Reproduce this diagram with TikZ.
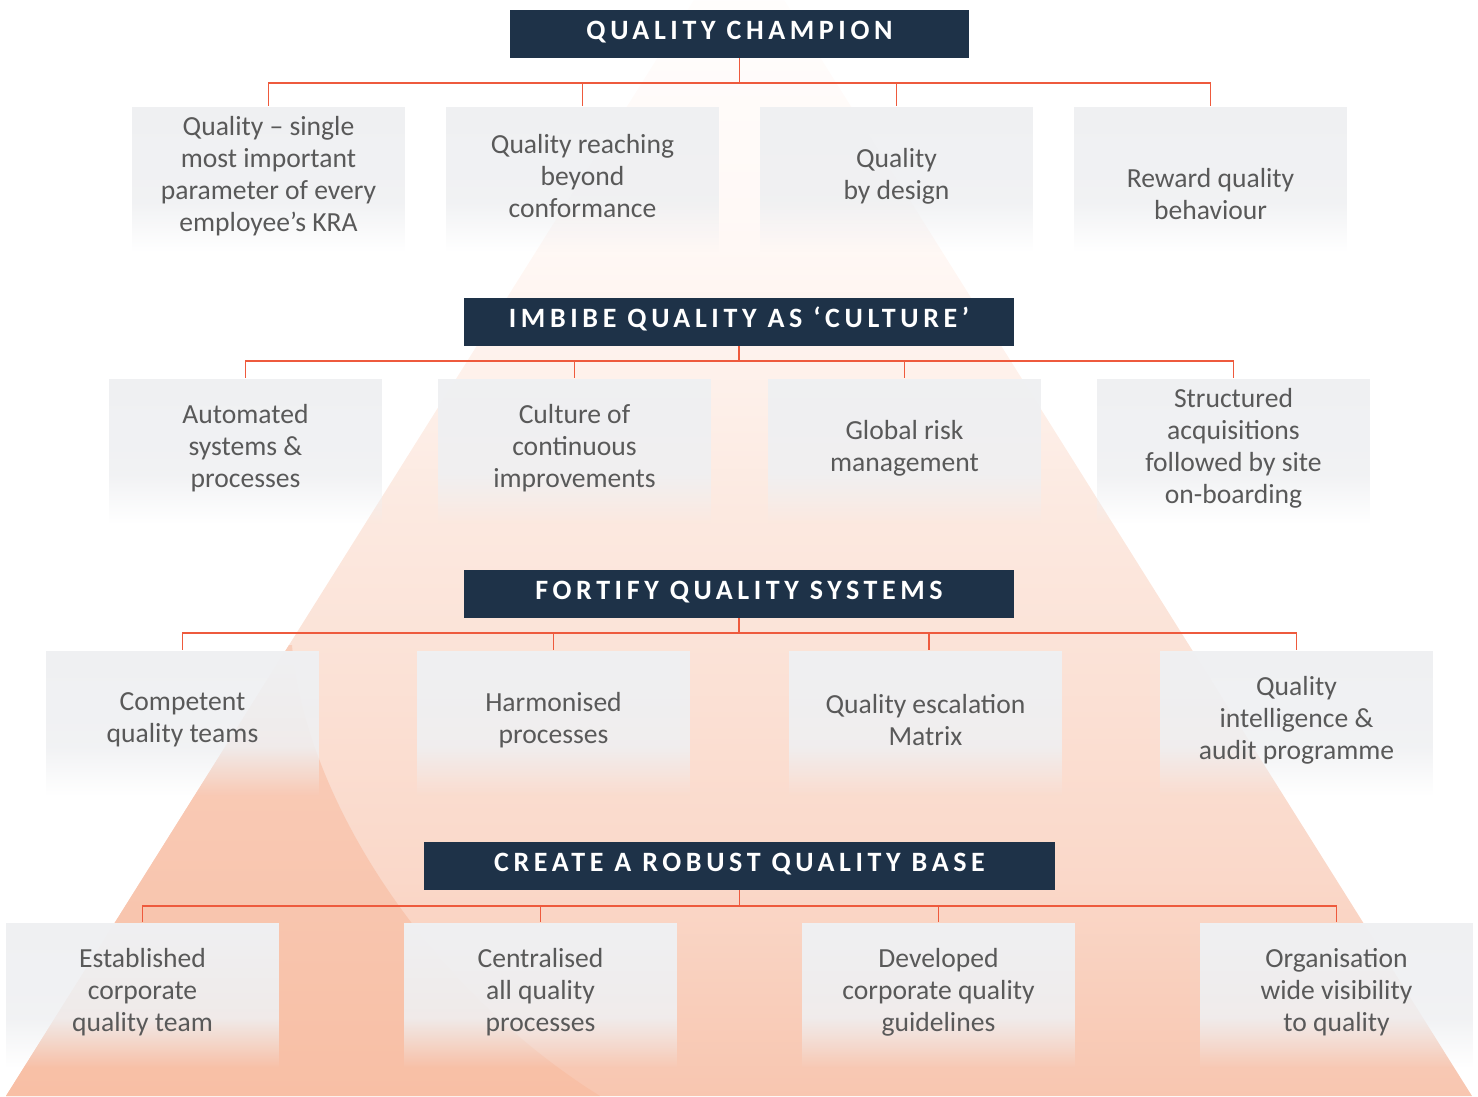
\documentclass[tikz,border=0pt]{standalone}
\usepackage{fontspec}
\setmainfont{Carlito}
\newfontfamily\hdrfamily[LetterSpace=16.5]{Carlito}
\usetikzlibrary{fadings}
\definecolor{navy}{HTML}{1E3248}
\definecolor{boxgrey}{HTML}{EFF0F2}
\definecolor{txtgrey}{HTML}{595959}
\definecolor{lineRed}{HTML}{EE5A3D}
\definecolor{pA}{HTML}{F8C6B0}
\definecolor{pB}{HTML}{FAD8C9}
\definecolor{pC}{HTML}{FCE9E0}
\definecolor{pD}{HTML}{FFF8F5}
\definecolor{pF}{HTML}{FFFCFB}
\definecolor{pE}{HTML}{FFFFFF}
\definecolor{wedgeTop}{HTML}{F9CEBB}
\definecolor{wedgeBot}{HTML}{F8BFA5}
\pgfdeclareverticalshading{pyrshade}{100bp}{color(0bp)=(pA); color(25bp)=(pA); color(34.3bp)=(pB); color(50bp)=(pC); color(61.3bp)=(pD); color(70bp)=(pF); color(75bp)=(pE); color(100bp)=(pE)}
\tikzfading[name=fadeA, top color=transparent!0, bottom color=transparent!12]
\tikzfading[name=fadeB, top color=transparent!12, bottom color=transparent!100]
\pgfdeclarelayer{background}
\pgfsetlayers{background,main}
\newcommand\boxbg[1]{%
  \fill[boxgrey, path fading=fadeA] (#1.north west) rectangle ([yshift=-95pt]#1.north east);
  \fill[boxgrey, path fading=fadeB] ([yshift=-95pt]#1.north west) rectangle ([yshift=-145pt]#1.north east);}
\tikzset{
  hdr/.style={fill=navy, text=white, minimum height=48pt, inner sep=0pt,
    text height=18pt, text depth=8pt, font=\hdrfamily\bfseries\fontsize{28}{30}\selectfont},
  infobox/.style={minimum width=273pt, minimum height=138pt, inner sep=0pt, align=center,
    text=txtgrey, font=\fontsize{27.6}{32}\selectfont},
  connector/.style={draw=lineRed, line width=1.5pt}
}
\begin{document}
\begin{tikzpicture}[x=1pt,y=-1pt]
\useasboundingbox (0,0) rectangle (1478,1096);
% background pyramid
\begin{pgfonlayer}{background}
\begin{scope}
\clip (0,0) rectangle (1478,1096);
\shade[shading=pyrshade] (739,-72) -- (1472,1096) -- (6,1096) -- cycle;
\clip (739,-72) -- (1472,1096) -- (6,1096) -- cycle;
\shade[top color=wedgeTop, bottom color=wedgeBot] (292,645) .. controls (305,800) and (430,990) .. (600,1096) -- (0,1096) -- (0,645) -- cycle;
\end{scope}
\end{pgfonlayer}

% headers
\node[hdr, minimum width=459pt] (h1) at (739.5,34) {QUALITY CHAMPION};
\node[hdr, minimum width=550pt] (h2) at (739,322) {IMBIBE QUALITY AS ‘CULTURE’};
\node[hdr, minimum width=550pt] (h3) at (739,594) {FORTIFY QUALITY SYSTEMS};
\node[hdr, minimum width=631pt] (h4) at (739.5,866) {CREATE A ROBUST QUALITY BASE};

% boxes row 1
\node[infobox] (b11) at (268.5,176) {Quality – single\\most important\\parameter of every\\employee’s KRA};
\node[infobox] (b12) at (582.5,176) {Quality reaching\\beyond\\conformance};
\node[infobox] (b13) at (896.5,176) {Quality\\by design};
\node[infobox] (b14) at (1210.5,176) {\strut\\Reward quality\\behaviour};
% row 2
\node[infobox] (b21) at (245.5,448) {Automated\\systems \&\\processes};
\node[infobox] (b22) at (574.5,448) {Culture of\\continuous\\improvements};
\node[infobox] (b23) at (904.5,448) {Global risk\\management};
\node[infobox] (b24) at (1233.5,448) {Structured\\acquisitions\\followed by site\\on-boarding};
% row 3
\node[infobox] (b31) at (182.5,720) {Competent\\quality teams};
\node[infobox] (b32) at (553.5,720) {Harmonised\\processes};
\node[infobox] (b33) at (925.5,720) {Quality escalation\\Matrix};
\node[infobox] (b34) at (1296.5,720) {Quality\\intelligence \&\\audit programme};
% row 4
\node[infobox] (b41) at (142.5,992) {Established\\corporate\\quality team};
\node[infobox] (b42) at (540.5,992) {Centralised\\all quality\\processes};
\node[infobox] (b43) at (938.5,992) {Developed\\corporate quality\\guidelines};
\node[infobox] (b44) at (1336.5,992) {Organisation\\wide visibility\\to quality};

\begin{pgfonlayer}{background}
\foreach \r in {1,2,3,4}{\foreach \c in {1,2,3,4}{\boxbg{b\r\c}}}
\end{pgfonlayer}

% connectors
\coordinate (j1) at (739.5,83);
\coordinate (j2) at (739,361);
\coordinate (j3) at (739,633);
\coordinate (j4) at (739.5,906);
\draw[connector] (h1.south) -- (j1);
\draw[connector] (h2.south) -- (j2);
\draw[connector] (h3.south) -- (j3);
\draw[connector] (h4.south) -- (j4);
\foreach \c in {1,2,3,4}{
  \draw[connector] (j1) -| ([yshift=1pt]b1\c.north);
  \draw[connector] (j2) -| ([yshift=1pt]b2\c.north);
  \draw[connector] (j4) -| ([yshift=1pt]b4\c.north);
}
\draw[connector] (j3) -| ([yshift=1pt]b31.north);
\draw[connector] (j3) -| ([yshift=1pt]b32.north);
\draw[connector] (j3) -| ([xshift=3.5pt,yshift=1pt]b33.north);
\draw[connector] (j3) -| ([yshift=1pt]b34.north);
\end{tikzpicture}
\end{document}
